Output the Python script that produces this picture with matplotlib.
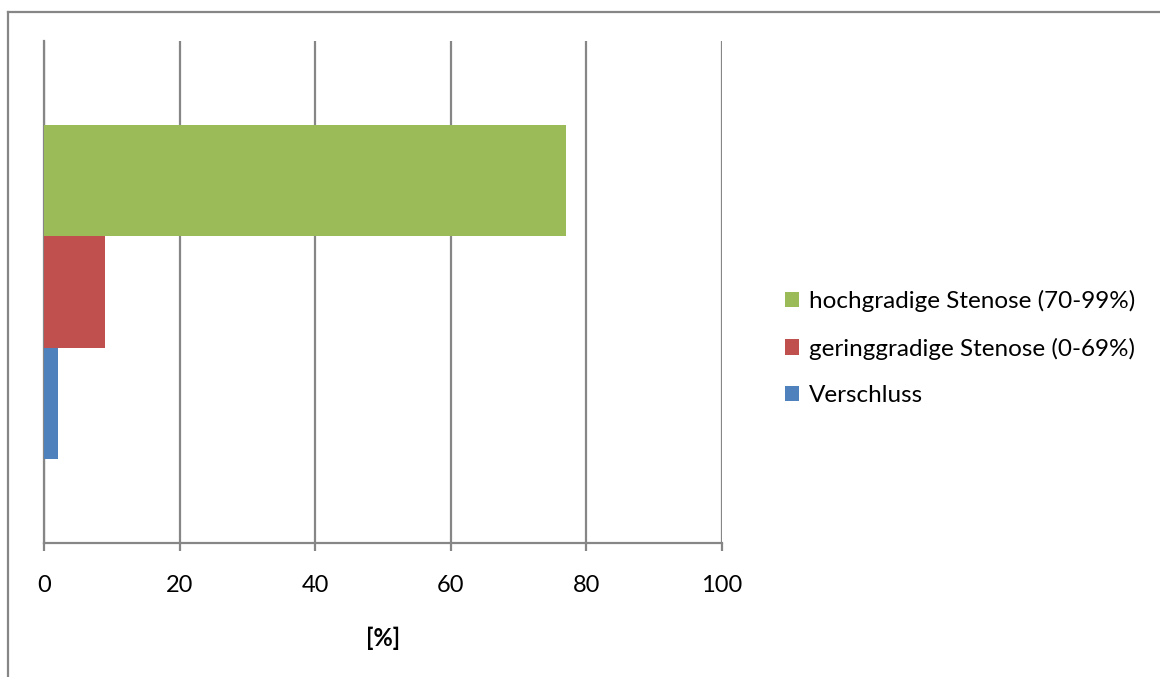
import matplotlib
matplotlib.use("Agg")
import matplotlib.pyplot as plt
from matplotlib.lines import Line2D
from matplotlib.patches import Patch

# Share of findings per category, in percent
series_names = ["Verschluss", "geringgradige Stenose (0-69%)", "hochgradige Stenose (70-99%)"]
series_values = [2, 9, 77]
series_colors = ["#4F81BD", "#C0504D", "#9BBB59"]
x_ticks = [0, 20, 40, 60, 80, 100]
x_label = "[%]"

plt.rcParams["font.family"] = ["Lato", "DejaVu Sans"]
grid_color = "#868686"

fig = plt.figure(figsize=(11.6, 6.77), dpi=100)
ax = fig.add_axes([44 / 1160, 1 - 543 / 677, (722 - 44) / 1160, (543 - 41) / 677])

# clustered horizontal bars for the single category (Excel gap width 150%)
n = len(series_values)
bar_h = (2 / 3) / n
for i, (name, val, col) in enumerate(zip(series_names, series_values, series_colors)):
    y = (i - (n - 1) / 2) * bar_h
    ax.barh(y, val, height=bar_h, color=col, label=name, zorder=3)

ax.set_xlim(0, 100)
ax.set_ylim(-0.5, 0.5)
ax.set_xticks(x_ticks)
ax.set_yticks([])
ax.grid(True, axis="x", color=grid_color, linewidth=1.6, zorder=0)
for side in ["top", "right"]:
    ax.spines[side].set_visible(False)
for side in ["left", "bottom"]:
    ax.spines[side].set_color(grid_color)
    ax.spines[side].set_linewidth(1.6)
ax.tick_params(axis="x", length=6, width=1.6, color=grid_color, labelsize=17, pad=17)
ax.set_xlabel(x_label, fontsize=17, fontweight="bold", labelpad=22)

handles = [Patch(facecolor=c) for c in series_colors][::-1]
fig.legend(handles, series_names[::-1], loc="center left",
           bbox_to_anchor=(763 / 1160, 1 - 348 / 677), frameon=False,
           fontsize=17.5, handlelength=0.6, handleheight=0.6,
           handletextpad=0.4, labelspacing=1.05)

# outer chart frame
fig.add_artist(Line2D([7.5 / 1160, 1], [1 - 11.5 / 677] * 2, color=grid_color, linewidth=1.6))
fig.add_artist(Line2D([7.5 / 1160] * 2, [0, 1 - 11.5 / 677], color=grid_color, linewidth=1.6))

fig.savefig("out.png", dpi=100)
